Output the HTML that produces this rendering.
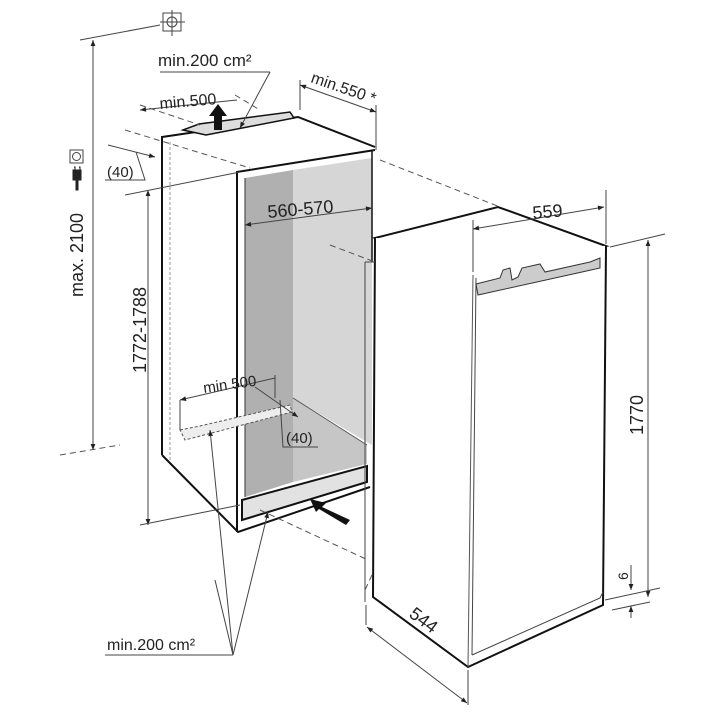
<!DOCTYPE html>
<html><head><meta charset="utf-8"><style>
html,body{margin:0;padding:0;background:#fff;width:720px;height:720px;overflow:hidden}
svg{display:block}
text{font-family:"Liberation Sans",sans-serif;fill:#222}
</style></head><body>
<svg width="720" height="720" viewBox="0 0 720 720" xmlns="http://www.w3.org/2000/svg">
<defs>
<marker id="a" viewBox="0 0 10 10" refX="10" refY="5" markerWidth="8" markerHeight="6" orient="auto-start-reverse" markerUnits="userSpaceOnUse"><path d="M0,1 L10,5 L0,9 z" fill="#222"/></marker>
</defs>
<g fill="none" stroke="#444" stroke-width="1">
<!-- niche interior -->
<polygon points="293,170 372,158 372,445 293,398" fill="#d6d6d6" stroke="none"/>
<polygon points="293,398 367,445 367,464 293,482" fill="#c6c6c6" stroke="none"/>
<polygon points="245,178 293,170 293,482 245,497" fill="#b0b0b0" stroke="none"/>
<line x1="293" y1="398" x2="367" y2="445" stroke="#555"/>
<!-- plinth -->
<polygon points="242,500 367,466 367,482 242,520" fill="#e2e2e2" stroke="#111" stroke-width="2"/>
<!-- niche outline -->
<polyline points="237,532 237,172 375,150" stroke="#111" stroke-width="2"/>
<polyline points="162,455 162,137 298,117 375,147" stroke="#111" stroke-width="2"/>
<polyline points="162,455 238,532 370,487" stroke="#111" stroke-width="2"/>
<line x1="245" y1="178" x2="245" y2="497" stroke="#333"/>
<line x1="372" y1="150" x2="372" y2="262" stroke="#111" stroke-width="1.5"/>
<polygon points="183,130 199,124 290,112 294,118 206,135" fill="#ddd" stroke="#111" stroke-width="1.5"/>
<line x1="170" y1="142" x2="170" y2="460" stroke="#999" stroke-dasharray="3,2"/>
<polygon points="180,430 200,426 290,405 292,412 185,440" fill="#eee" stroke="#555" stroke-dasharray="3,2"/>
<!-- dashed construction -->
<g stroke="#555" stroke-dasharray="6,4">
<line x1="125" y1="130" x2="250" y2="168"/>
<line x1="140" y1="105" x2="200" y2="125"/>
<line x1="235" y1="95" x2="260" y2="110"/>
<line x1="380" y1="160" x2="500" y2="207"/>
<line x1="330" y1="245" x2="375" y2="262"/>
<line x1="60" y1="455" x2="120" y2="445"/>
<line x1="260" y1="510" x2="368" y2="560"/>
<line x1="372" y1="575" x2="365" y2="590"/>
</g>
<!-- fridge -->
<polygon points="375,238 498,207 606,246 473,275" fill="#fff" stroke="#111" stroke-width="2"/>
<polyline points="375,238 373,597 468,667 603,605 606,246" stroke="#111" stroke-width="2" fill="#fff"/>
<line x1="473" y1="275" x2="468" y2="667" stroke="#555"/>
<line x1="476" y1="278" x2="472" y2="655"/>
<polyline points="472,655 600,598 603,592"/>
<line x1="365" y1="262" x2="365" y2="602"/>
<line x1="365" y1="262" x2="375" y2="262"/>
<polygon points="476,284 500,278 503,270 510,268 512,280 518,277 522,268 540,264 545,272 590,262 600,258 600,268 582,272 478,295" fill="#ccc" stroke="#333"/>
<!-- dimension lines -->
<line x1="93" y1="40" x2="93" y2="450" marker-start="url(#a)" marker-end="url(#a)"/>
<line x1="80" y1="40" x2="160" y2="25"/>
<line x1="148" y1="190" x2="148" y2="525" marker-start="url(#a)" marker-end="url(#a)"/>
<line x1="125" y1="195" x2="240" y2="172"/>
<line x1="140" y1="525" x2="240" y2="505"/>
<line x1="140" y1="110" x2="237" y2="100" marker-start="url(#a)"/>
<line x1="160" y1="72" x2="270" y2="72"/>
<line x1="270" y1="72" x2="240" y2="128" marker-end="url(#a)"/>
<line x1="300" y1="80" x2="300" y2="110"/>
<line x1="376" y1="105" x2="376" y2="150"/>
<line x1="300" y1="85" x2="376" y2="112" marker-start="url(#a)" marker-end="url(#a)"/>
<line x1="108" y1="145" x2="155" y2="157" marker-end="url(#a)"/>
<polyline points="105,180 145,180 136,152"/>
<line x1="245" y1="225" x2="372" y2="208" marker-start="url(#a)" marker-end="url(#a)"/>
<line x1="473" y1="220" x2="473" y2="272"/>
<line x1="606" y1="190" x2="606" y2="244"/>
<line x1="473" y1="229" x2="604" y2="207" marker-start="url(#a)" marker-end="url(#a)"/>
<line x1="610" y1="247" x2="665" y2="234"/>
<line x1="648" y1="240" x2="648" y2="597" marker-start="url(#a)" marker-end="url(#a)"/>
<line x1="605" y1="600" x2="660" y2="588"/>
<line x1="612" y1="610" x2="650" y2="602"/>
<line x1="631" y1="565" x2="631" y2="590" marker-end="url(#a)"/>
<line x1="631" y1="618" x2="631" y2="606" marker-end="url(#a)"/>
<line x1="366" y1="605" x2="366" y2="625"/>
<line x1="468" y1="670" x2="468" y2="705"/>
<line x1="367" y1="627" x2="467" y2="703" marker-start="url(#a)" marker-end="url(#a)"/>
<line x1="180" y1="400" x2="275" y2="378" marker-start="url(#a)"/>
<line x1="180" y1="400" x2="180" y2="430"/>
<line x1="275" y1="375" x2="275" y2="398"/>
<line x1="255" y1="387" x2="298" y2="417" marker-end="url(#a)"/>
<polyline points="280,400 283,447 318,447"/>
<line x1="105" y1="655" x2="233" y2="655"/>
<line x1="233" y1="655" x2="210" y2="430" marker-end="url(#a)"/>
<line x1="233" y1="655" x2="268" y2="512" marker-end="url(#a)"/>
<line x1="233" y1="655" x2="215" y2="580"/>
</g>
<!-- arrows -->
<path d="M214,130 L214,116 L209,116 L218,104 L227,116 L222,116 L222,130 z" fill="#111"/>
<path d="M350,520 L322,507 L326,503 L310,499 L316,512 L319,509 L346,525 z" fill="#111"/>
<!-- symbols -->
<g fill="none" stroke="#444"><rect x="163" y="13" width="18" height="18"/><circle cx="172" cy="22" r="5"/><line x1="172" y1="10" x2="172" y2="36"/><line x1="160" y1="22" x2="185" y2="22"/>
<rect x="70" y="150" width="13" height="13"/><circle cx="76.5" cy="156.5" r="4"/></g>
<path d="M73,170 L81,170 L81,180 L73,180 z M76,180 L78,180 L78,190 L76,190 z M74,167 L75,167 L75,170 M79,167 L80,167 L80,170" fill="#222" stroke="#222"/>
<!-- text -->
<text x="158" y="66" font-size="17">min.200 cm²</text>
<text x="160" y="109" font-size="16" transform="rotate(-5 160 109)">min.500</text>
<text x="310" y="82" font-size="16" transform="rotate(19 310 82)">min.550 *</text>
<text x="107" y="177" font-size="15">(40)</text>
<text x="83" y="255" font-size="18" transform="rotate(-90 83 255)" text-anchor="middle">max. 2100</text>
<text x="146" y="330" font-size="18" transform="rotate(-90 146 330)" text-anchor="middle">1772-1788</text>
<text x="268" y="218" font-size="18" transform="rotate(-5 268 218)">560-570</text>
<text x="533" y="219" font-size="18" transform="rotate(-5 533 219)">559</text>
<text x="643" y="415" font-size="18" transform="rotate(-90 643 415)" text-anchor="middle">1770</text>
<text x="628" y="580" font-size="14" transform="rotate(-90 628 580)">6</text>
<text x="408" y="616" font-size="18" transform="rotate(37 408 616)">544</text>
<text x="204" y="393" font-size="15" transform="rotate(-8 204 393)">min 500</text>
<text x="286" y="443" font-size="15">(40)</text>
<text x="107" y="650" font-size="16">min.200 cm²</text>
</svg>
</body></html>
